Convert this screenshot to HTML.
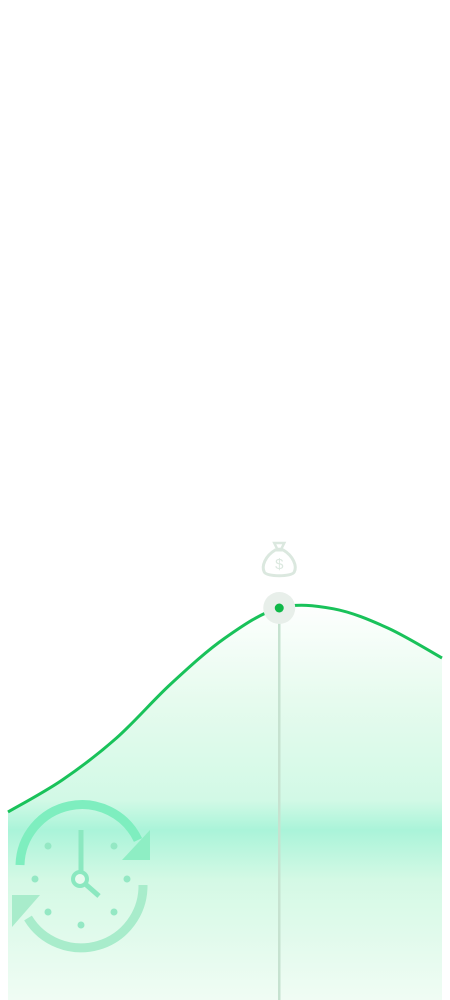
<!DOCTYPE html>
<html><head><meta charset="utf-8">
<style>
html,body{margin:0;padding:0;background:#fff;width:450px;height:1000px;overflow:hidden;font-family:"Liberation Sans",sans-serif;}
svg{display:block}
</style></head>
<body>
<svg id="chart" width="450" height="1000" viewBox="0 0 450 1000">
<defs>
<linearGradient id="fillGrad" x1="0" y1="600" x2="0" y2="1000" gradientUnits="userSpaceOnUse">
<stop offset="0" stop-color="#ffffff"/>
<stop offset="0.25" stop-color="#e6fbee"/>
<stop offset="0.5" stop-color="#d2f9e6"/>
<stop offset="0.575" stop-color="#aaf4d9"/>
<stop offset="0.7" stop-color="#d4f9e5"/>
<stop offset="1" stop-color="#f0fcf4"/>
</linearGradient>
</defs>
<g id="plot"></g>
</svg>
<script>
const categories = [0,1,2,3,4,5,6,7,8];
const values = [47,55,65.5,79,90.5,98,97.8,93,85.5];
const highlightIndex = 5;
const highlightValue = 98;

const NS = "http://www.w3.org/2000/svg";
const X0 = 8, X1 = 442, YB = 1000, YT = 600;
function xScale(i){ return X0 + (X1 - X0) * i / (categories.length - 1); }
function yScale(v){ return YB - (YB - YT) * v / 100; }

const pts = values.map((v,i)=>[xScale(i), yScale(v)]);
function smooth(p){
  let d = `M${p[0][0]},${p[0][1]}`;
  for(let i=0;i<p.length-1;i++){
    const p0=p[Math.max(0,i-1)],p1=p[i],p2=p[i+1],p3=p[Math.min(p.length-1,i+2)];
    const c1x=p1[0]+(p2[0]-p0[0])/6, c1y=p1[1]+(p2[1]-p0[1])/6;
    const c2x=p2[0]-(p3[0]-p1[0])/6, c2y=p2[1]-(p3[1]-p1[1])/6;
    d+=` C${c1x},${c1y} ${c2x},${c2y} ${p2[0]},${p2[1]}`;
  }
  return d;
}
const g = document.getElementById('plot');
const lineD = smooth(pts);

const area = document.createElementNS(NS,'path');
area.setAttribute('d', lineD + ` L${xScale(categories.length-1)},${YB} L${xScale(0)},${YB} Z`);
area.setAttribute('fill','url(#fillGrad)');


g.appendChild(area);

const clock = document.createElementNS(NS,'g');


clock.innerHTML = `
<path d="M20,865 A62,62 0 0 1 138,840" fill="none" stroke="#7eeebf" stroke-width="9"/>
<polygon points="150,830 150,860 122,860" fill="#8eeec4"/>
<path d="M143,885 A62,62 0 0 1 28,918" fill="none" stroke="#a8eccb" stroke-width="9"/>
<polygon points="12,895 12,927 40,895" fill="#a8eccb"/>
<line x1="81" y1="830" x2="81" y2="872" stroke="#8be8c0" stroke-width="5"/>
<line x1="83" y1="882" x2="99" y2="896" stroke="#8be8c0" stroke-width="5"/>
<circle cx="80" cy="879" r="7" fill="#e6fbee" stroke="#8be8c0" stroke-width="4"/>
<g fill="#94e8c4">
<circle cx="48" cy="846" r="3.5"/><circle cx="114" cy="846" r="3.5"/>
<circle cx="35" cy="879" r="3.5"/><circle cx="127" cy="879" r="3.5"/>
<circle cx="48" cy="912" r="3.5"/><circle cx="114" cy="912" r="3.5"/>
<circle cx="81" cy="925" r="3.5"/></g>`;
g.appendChild(clock);

const hx = xScale(highlightIndex), hy = yScale(highlightValue);
const vline = document.createElementNS(NS,'line');
vline.setAttribute('x1',hx);vline.setAttribute('x2',hx);
vline.setAttribute('y1',hy);vline.setAttribute('y2',YB);
vline.setAttribute('stroke','#c6e2d0');vline.setAttribute('stroke-width','2.5');


g.appendChild(vline);

const line = document.createElementNS(NS,'path');
line.setAttribute('d', lineD);
line.setAttribute('fill','none');line.setAttribute('stroke','#19c25a');line.setAttribute('stroke-width','3');


g.appendChild(line);

const halo = document.createElementNS(NS,'circle');
halo.setAttribute('cx',hx);halo.setAttribute('cy',hy);halo.setAttribute('r','16');
halo.setAttribute('fill','#e8efea');


g.appendChild(halo);
const dot = document.createElementNS(NS,'circle');
dot.setAttribute('cx',hx);dot.setAttribute('cy',hy);dot.setAttribute('r','4.5');
dot.setAttribute('fill','#0fb848');


g.appendChild(dot);

const bag = document.createElementNS(NS,'g');


bag.setAttribute('transform',`translate(${hx},${hy-48})`);
bag.innerHTML = `
<path d="M-5,-17 L5,-17 L2,-11 L-2,-11 Z" fill="none" stroke="#dbe8df" stroke-width="2.5"/>
<path d="M-4,-10 C-14,-4 -18,6 -15,12 C-13,17 13,17 15,12 C18,6 14,-4 4,-10 Z" fill="none" stroke="#dbe8df" stroke-width="3"/>
<text x="0" y="9" text-anchor="middle" font-size="15" fill="#dbe8df" font-family="Liberation Sans, sans-serif">$</text>`;
g.appendChild(bag);
</script>
</body></html>
